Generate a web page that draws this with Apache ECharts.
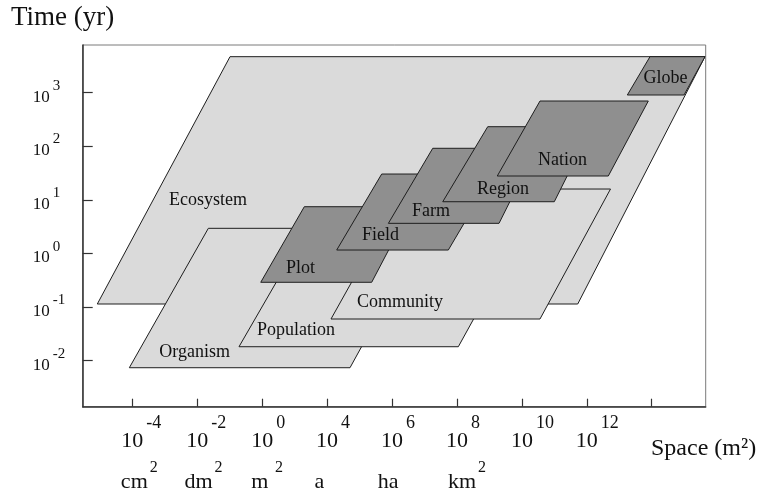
<!DOCTYPE html>
<html><head><meta charset="utf-8">
<script src="https://cdn.jsdelivr.net/npm/echarts@6/dist/echarts.min.js"></script>
<style>html,body{margin:0;padding:0;background:#fff}#c{width:770px;height:494px}</style>
</head><body><div id="c"></div>
<script>
// ---------------- data ----------------
// y: log10(time in years); x: position of the space tick (log-area scale as drawn)
const yTickValues = [-2, -1, 0, 1, 2, 3];
const yTickExponents = ['-2', '-1', '0', '1', '2', '3'];
const xTickValues = [0, 1, 2, 3, 4, 5, 6, 7, 8];
const xLabelValues = [0, 1, 2, 3, 4, 5, 6, 7];
const xTickExponents = ['-4', '-2', '0', '4', '6', '8', '10', '12', ''];
const xUnits = ['cm', 'dm', 'm', 'a', 'ha', 'km', '', '', ''];
const xUnitSup = ['2', '2', '2', '', '', '2', '', '', ''];

const scaleNames = ['Ecosystem', 'Organism', 'Population', 'Community', 'Plot', 'Field', 'Farm', 'Region', 'Nation', 'Globe'];
const scaleTone = ['light', 'light', 'light', 'light', 'dark', 'dark', 'dark', 'dark', 'dark', 'dark'];
// corners: bottom-left, bottom-right, top-right, top-left  ([x, log10 yr])
const ecosystem  = [[-0.539, -0.942], [6.860, -0.942], [8.820, 3.672], [1.505, 3.672]];
const organism   = [[-0.046, -2.131], [3.353, -2.131], [4.534, 0.470], [1.171, 0.470]];
const population = [[1.643, -1.739], [5.021, -1.739], [5.971, 0.345], [2.637, 0.345]];
const community  = [[3.060, -1.222], [6.279, -1.222], [7.365, 1.203], [4.181, 1.203]];
const plot       = [[1.978, -0.537], [3.687, -0.537], [4.298, 0.873], [2.649, 0.873]];
const field      = [[3.148, 0.065], [4.867, 0.065], [5.557, 1.483], [3.841, 1.483]];
const farm       = [[3.944, 0.563], [5.648, 0.563], [6.225, 1.963], [4.627, 1.963]];
const region     = [[4.781, 0.966], [6.499, 0.966], [7.077, 2.366], [5.474, 2.366]];
const nation     = [[5.621, 1.446], [7.331, 1.446], [7.947, 2.845], [6.279, 2.845]];
const globe      = [[7.624, 2.957], [8.497, 2.957], [8.820, 3.672], [7.973, 3.672]];
const labelAnchor = [[1.166, 0.998], [0.961, -1.838], [2.521, -1.427], [4.123, -0.905], [2.590, -0.271],
                     [3.823, 0.336], [4.600, 0.793], [5.709, 1.194], [6.626, 1.744], [8.212, 3.265]];

// ---------------- style ----------------
const FONT = '"Liberation Serif", "Times New Roman", serif';
const TEXT = '#111';
const TONES = { light: '#dadada', dark: '#8f8f8f' };
const unitNudge = [2, 1.3, -2.3, -7.8, -4, 5, 0, 0, 0];
const shapes = [ecosystem, organism, population, community, plot, field, farm, region, nation, globe];

const ctx = document.createElement('canvas').getContext('2d');
function tw(t, size) { ctx.font = size + 'px ' + FONT; return ctx.measureText(t).width; }

const xRich = {
  s: { fontFamily: FONT, fontSize: 18, height: 18, color: TEXT, padding: [0, 0, 19.7, 3], verticalAlign: 'top', align: 'center' },
  us: { fontFamily: FONT, fontSize: 16, height: 16, color: TEXT, padding: [7.5, 0, 0, 2], verticalAlign: 'top', align: 'center' }
};
xTickValues.forEach((v, i) => {
  xRich['b' + i] = { fontFamily: FONT, fontSize: 22, height: 22, color: TEXT, verticalAlign: 'bottom', align: 'center',
    padding: [0, 0, 0, tw(xTickExponents[i], 18) + 3] };
  const supW = xUnitSup[i] ? tw(xUnitSup[i], 16) + 2 : 0;
  const n = unitNudge[i] * 2;
  xRich['u' + i] = { fontFamily: FONT, fontSize: 22, height: 22, color: TEXT, verticalAlign: 'bottom', align: 'center',
    padding: [19.7, n < 0 ? -n : 0, 0, supW + (n > 0 ? n : 0)] };
});

const chart = echarts.init(document.getElementById('c'), null, { renderer: 'canvas' });
chart.setOption({
  animation: false,
  backgroundColor: '#fff',
  title: [
    { text: 'Time (yr)', left: 11, top: 4, padding: 0,
      textStyle: { fontFamily: FONT, fontSize: 27, fontWeight: 'normal', color: TEXT } },
    { text: 'Space (m²)', left: 651, top: 437, padding: 0,
      textStyle: { fontFamily: FONT, fontSize: 24, fontWeight: 'normal', color: TEXT } }
  ],
  grid: { left: 82.7, right: 64.3, top: 45, bottom: 87.3, show: true, borderColor: '#7a7a7a', borderWidth: 1, backgroundColor: 'transparent' },
  xAxis: {
    type: 'value', min: -0.764, max: 8.831,
    axisLine: { show: true, onZero: false, lineStyle: { color: '#333', width: 1.5 } },
    axisTick: { show: true, inside: true, length: 8, customValues: xTickValues, lineStyle: { color: '#333', width: 1.2 } },
    axisLabel: {
      show: true, customValues: xLabelValues, margin: 7.6, color: TEXT, fontFamily: FONT, align: 'center',
      formatter: function (v) {
        const i = Math.round(v);
        const exp = xTickExponents[i];
        if (!exp) return '';
        let s = '{b' + i + '|10}{s|' + exp + '}';
        if (xUnits[i]) {
          s += '\n{u' + i + '|' + xUnits[i] + '}';
          if (xUnitSup[i]) s += '{us|' + xUnitSup[i] + '}';
        }
        return s;
      },
      rich: xRich
    },
    splitLine: { show: false }
  },
  yAxis: {
    type: 'value', min: -2.858, max: 3.890,
    axisLine: { show: true, onZero: false, lineStyle: { color: '#333', width: 1.5 } },
    axisTick: { show: true, inside: true, length: 10, customValues: yTickValues, lineStyle: { color: '#333', width: 1.2 } },
    axisLabel: {
      show: true, customValues: yTickValues, align: 'left', margin: 50, color: TEXT, fontFamily: FONT,
      formatter: function (v) {
        const i = yTickValues.indexOf(Math.round(v));
        return '{b|10}{s|' + yTickExponents[i] + '}';
      },
      rich: {
        b: { fontFamily: FONT, fontSize: 17, height: 17, color: TEXT, verticalAlign: 'bottom', padding: [0, 0, 1.5, 0] },
        s: { fontFamily: FONT, fontSize: 15, height: 15, color: TEXT, verticalAlign: 'top', padding: [0, 0, 13.7, 3] }
      }
    },
    splitLine: { show: false }
  },
  series: [{
    type: 'custom',
    coordinateSystem: 'cartesian2d',
    clip: true,
    encode: { x: 0, y: 1 },
    data: labelAnchor.map((p, i) => [p[0], p[1], i]),
    renderItem: function (params, api) {
      const i = api.value(2);
      const pts = shapes[i].map(p => api.coord(p));
      const c = api.coord([api.value(0), api.value(1)]);
      return {
        type: 'group',
        children: [
          { type: 'polygon', shape: { points: pts },
            style: { fill: TONES[scaleTone[i]], stroke: '#1e1e1e', lineWidth: 1 } },
          { type: 'text', x: c[0], y: c[1],
            style: { text: scaleNames[i], fontFamily: FONT, fontSize: 18, fill: TEXT, align: 'center', verticalAlign: 'middle' } }
        ]
      };
    }
  }]
});
</script>
</body></html>
